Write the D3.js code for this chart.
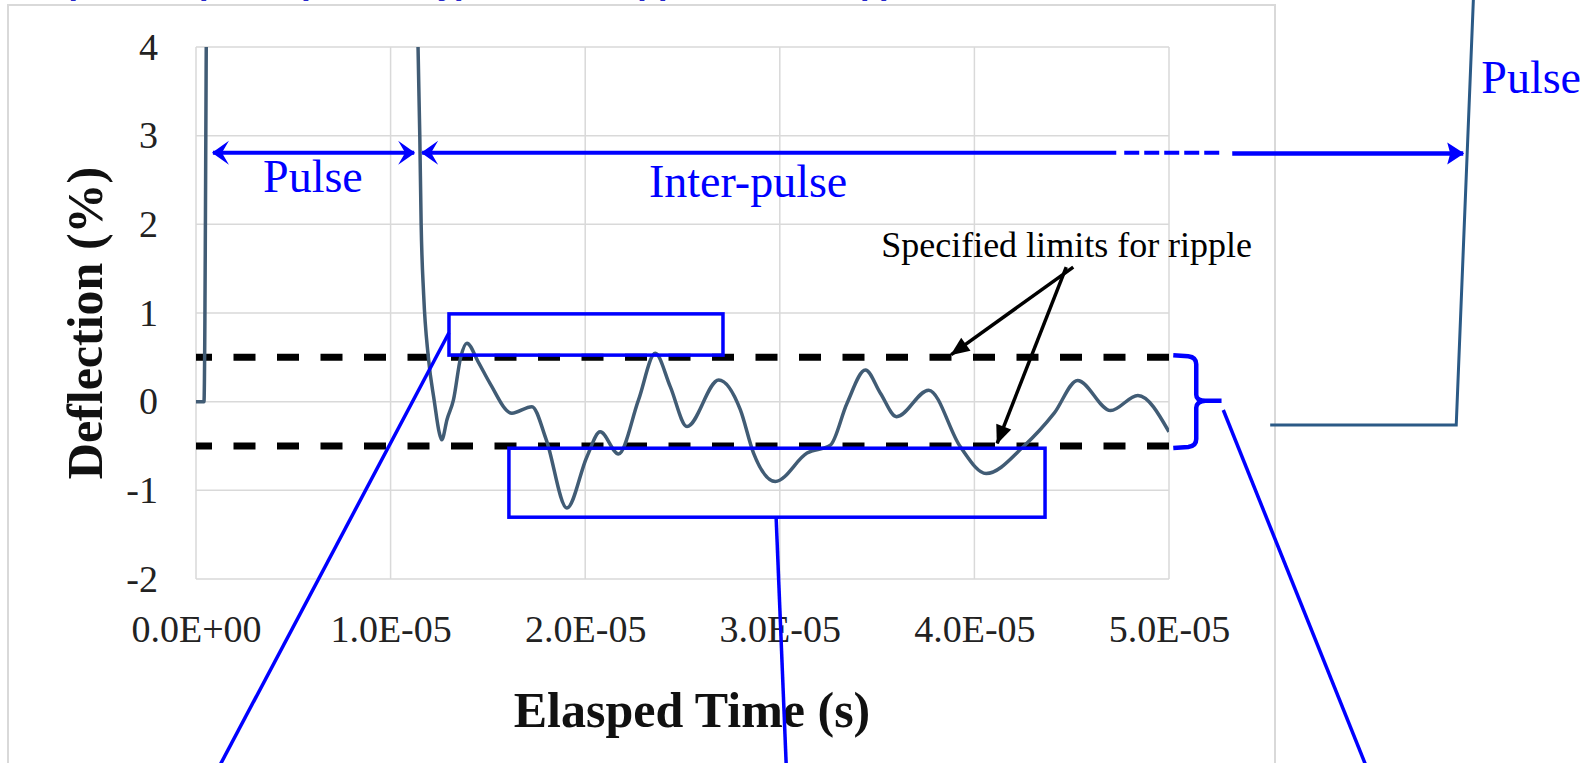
<!DOCTYPE html>
<html>
<head>
<meta charset="utf-8">
<script src="https://cdn.jsdelivr.net/npm/d3@7"></script>
<style>
  body { margin: 0; background: #fff; }
  svg { display: block; }
</style>
</head>
<body>
<script>
// trace: elapsed time (s) and deflection (%)
var timeSec = [0, 0.041e-5, 0.06e-5, 1.13e-5, 1.141e-5, 1.150e-5, 1.157e-5, 1.17e-5,
  1.194e-5, 1.225e-5, 1.25e-5, 1.263e-5, 1.29e-5, 1.323e-5, 1.36e-5, 1.392e-5, 1.45e-5,
  1.51e-5, 1.623e-5, 1.726e-5, 1.80e-5, 1.906e-5, 2.009e-5, 2.077e-5, 2.171e-5,
  2.274e-5, 2.36e-5, 2.437e-5, 2.523e-5, 2.686e-5, 2.797e-5, 2.865e-5, 2.977e-5,
  3.14e-5, 3.26e-5, 3.345e-5, 3.44e-5, 3.517e-5, 3.60e-5, 3.765e-5, 3.928e-5,
  4.06e-5, 4.255e-5, 4.41e-5, 4.53e-5, 4.70e-5, 4.84e-5, 5.0e-5];
var deflection = [0, 0, 6, 6, 4, 3, 2, 1.2,
  0.5, 0.0, -0.35, -0.43, -0.2, 0.02, 0.5, 0.66, 0.45,
  0.21, -0.13, -0.056, -0.43, -1.2, -0.62, -0.34, -0.59,
  0.02, 0.545, 0.17, -0.28, 0.245, -0.09, -0.58, -0.9,
  -0.58, -0.49, -0.02, 0.357, 0.095, -0.17, 0.13, -0.51,
  -0.81, -0.5, -0.13, 0.24, -0.1, 0.07, -0.34];

var rippleLimits = [0.5, -0.5];
var xTicks = [0, 1e-5, 2e-5, 3e-5, 4e-5, 5e-5];
var yTicks = [-2, -1, 0, 1, 2, 3, 4];

var W = 1593, H = 763;
var serif = '"Liberation Serif", "Times New Roman", serif';
var blue = '#0000ff';

var svg = d3.select('body').append('svg')
  .attr('width', W)
  .attr('height', H);

var x = d3.scaleLinear().domain([0, 5e-5]).range([196, 1169]);
var y = d3.scaleLinear().domain([-2, 4]).range([579, 47]);

//scientific labels like the spreadsheet: 1.0E-05
function sci(d) {
  if (d === 0) return '0.0E+00';
  var e = Math.floor(Math.log10(d) + 1e-9);
  var m = d / Math.pow(10, e);
  return m.toFixed(1) + 'E' + (e < 0 ? '-' : '+') + String(Math.abs(e)).padStart(2, '0');
}

var defs = svg.append('defs');
defs.append('clipPath').attr('id', 'plotClip')
  .append('rect')
  .attr('x', x(0)).attr('y', y(4))
  .attr('width', x(5e-5) - x(0)).attr('height', y(-2) - y(4));

function marker(id, color, d, w, h) {
  defs.append('marker')
    .attr('id', id)
    .attr('markerUnits', 'userSpaceOnUse')
    .attr('viewBox', (-w) + ' ' + (-h / 2) + ' ' + (w + 1) + ' ' + h)
    .attr('markerWidth', w + 1)
    .attr('markerHeight', h)
    .attr('refX', 0).attr('refY', 0)
    .attr('orient', 'auto-start-reverse')
    .append('path')
    .attr('d', d)
    .attr('fill', color);
}
marker('stealth', blue, 'M1,0 L-16,-12 L-9,0 L-16,12 Z', 17, 26);
marker('solidBlue', blue, 'M1,0 L-16,-11 L-13,0 L-16,11 Z', 17, 24);
marker('blackHead', '#000', 'M1,0 L-18,-8 L-18,8 Z', 19, 18);

// title line above, cut by the page edge
svg.append('text')
  .attr('x', 27).attr('y', -6)
  .attr('font-family', '"Liberation Sans", Arial, sans-serif')
  .attr('font-weight', 'bold')
  .attr('font-size', 34)
  .attr('fill', '#2626c9')
  .text('Expanded pulse (vertically) to show ripple on flat top)');

//chart area border
svg.append('rect')
  .attr('x', 8).attr('y', 5)
  .attr('width', 1267).attr('height', 800)
  .attr('fill', 'none')
  .attr('stroke', '#d9d9d9')
  .attr('stroke-width', 2);

var grid = svg.append('g').attr('stroke', '#d9d9d9').attr('stroke-width', 1.5);
grid.selectAll('.vg')
  .data(xTicks)
  .enter()
  .append('line')
  .attr('x1', function(d) { return x(d); })
  .attr('x2', function(d) { return x(d); })
  .attr('y1', y(4)).attr('y2', y(-2));
grid.selectAll('.hg')
  .data(yTicks)
  .enter()
  .append('line')
  .attr('x1', x(0)).attr('x2', x(5e-5))
  .attr('y1', function(d) { return y(d); })
  .attr('y2', function(d) { return y(d); });

var xAxis = svg.append('g')
  .attr('transform', 'translate(0,' + y(-2) + ')')
  .call(d3.axisBottom(x).tickValues(xTicks).tickFormat(sci).tickSize(0));
xAxis.select('.domain').remove();
xAxis.selectAll('text')
  .attr('y', 63).attr('dy', 0)
  .attr('font-family', serif).attr('font-size', 38).attr('fill', '#222');

var yAxis = svg.append('g')
  .attr('transform', 'translate(' + x(0) + ',0)')
  .call(d3.axisLeft(y).tickValues(yTicks).tickFormat(function(d) { return String(d); }).tickSize(0));
yAxis.select('.domain').remove();
yAxis.selectAll('text')
  .attr('x', -38)
  .attr('font-family', serif).attr('font-size', 38).attr('fill', '#222');

svg.append('text')
  .attr('transform', 'translate(102,323) rotate(-90)')
  .attr('text-anchor', 'middle')
  .attr('font-family', serif).attr('font-weight', 'bold').attr('font-size', 50)
  .attr('fill', '#111')
  .text('Deflection (%)');

svg.append('text')
  .attr('x', 692).attr('y', 727)
  .attr('text-anchor', 'middle')
  .attr('font-family', serif).attr('font-weight', 'bold').attr('font-size', 50)
  .attr('fill', '#111')
  .text('Elasped Time (s)');

//ripple limits
svg.selectAll('.limit')
  .data(rippleLimits)
  .enter()
  .append('line')
  .attr('x1', x(0)).attr('x2', x(5e-5))
  .attr('y1', function(d) { return y(d); })
  .attr('y2', function(d) { return y(d); })
  .attr('stroke', '#000')
  .attr('stroke-width', 7)
  .attr('stroke-dasharray', '22,21.5')
  .attr('stroke-dashoffset', 6);

var line = d3.line()
  .x(function(d, i) { return x(timeSec[i]); })
  .y(function(d) { return y(d); })
  .curve(d3.curveMonotoneX);

svg.append('path')
  .attr('clip-path', 'url(#plotClip)')
  .attr('d', line(deflection))
  .attr('fill', 'none')
  .attr('stroke', '#415c75')
  .attr('stroke-width', 3.5);

// blue annotations, placed in data units
var ann = svg.append('g').attr('stroke', blue).attr('fill', 'none');

ann.append('line')
  .attr('x1', x(0.087e-5)).attr('x2', x(1.121e-5))
  .attr('y1', y(2.807)).attr('y2', y(2.807))
  .attr('stroke-width', 4)
  .attr('marker-start', 'url(#stealth)')
  .attr('marker-end', 'url(#stealth)');

ann.append('line')
  .attr('x1', x(1.162e-5)).attr('x2', x(4.729e-5))
  .attr('y1', y(2.807)).attr('y2', y(2.807))
  .attr('stroke-width', 4)
  .attr('marker-start', 'url(#stealth)');
ann.append('line')
  .attr('x1', x(4.770e-5)).attr('x2', x(5.263e-5))
  .attr('y1', y(2.807)).attr('y2', y(2.807))
  .attr('stroke-width', 4)
  .attr('stroke-dasharray', '15,5');
ann.append('line')
  .attr('x1', x(5.325e-5)).attr('x2', x(6.512e-5))
  .attr('y1', y(2.80)).attr('y2', y(2.80))
  .attr('stroke-width', 4.5)
  .attr('marker-end', 'url(#solidBlue)');

ann.append('rect')
  .attr('x', x(1.30e-5)).attr('y', y(0.99))
  .attr('width', x(2.708e-5) - x(1.30e-5)).attr('height', y(0.525) - y(0.99))
  .attr('stroke-width', 3.5);
ann.append('rect')
  .attr('x', x(1.608e-5)).attr('y', y(-0.525))
  .attr('width', x(4.363e-5) - x(1.608e-5)).attr('height', y(-1.303) - y(-0.525))
  .attr('stroke-width', 3.5);

var callouts = [
  [[1.30e-5, 0.777], [0.123e-5, -4.1]],
  [[2.981e-5, -1.30], [3.033e-5, -4.1]],
  [[5.279e-5, -0.094], [6.011e-5, -4.1]]
];
callouts.forEach(function(c) {
  ann.append('line')
    .attr('x1', x(c[0][0])).attr('y1', y(c[0][1]))
    .attr('x2', x(c[1][0])).attr('y2', y(c[1][1]))
    .attr('stroke-width', 3.5);
});

//brace round the ripple band
var bx0 = x(5.022e-5), bx1 = x(5.14e-5), bt = x(5.27e-5);
var yTop = y(rippleLimits[0]) - 2, yBot = y(rippleLimits[1]) + 2, yMid = y(0);
ann.append('path')
  .attr('d', 'M' + bx0 + ',' + yTop +
    ' L' + (bx1 - 8) + ',' + (yTop + 1) +
    ' Q' + bx1 + ',' + (yTop + 2) + ' ' + bx1 + ',' + (yTop + 9) +
    ' L' + bx1 + ',' + (yMid - 7) +
    ' Q' + bx1 + ',' + (yMid - 1) + ' ' + (bx1 + 9) + ',' + (yMid - 1) +
    ' L' + bt + ',' + (yMid - 1) +
    ' M' + (bx1 + 9) + ',' + (yMid - 1) +
    ' Q' + bx1 + ',' + (yMid) + ' ' + bx1 + ',' + (yMid + 6) +
    ' L' + bx1 + ',' + (yBot - 9) +
    ' Q' + bx1 + ',' + (yBot - 2) + ' ' + (bx1 - 8) + ',' + (yBot - 1) +
    ' L' + bx0 + ',' + yBot)
  .attr('stroke-width', 4.5);

// next pulse sketch at the right
svg.append('polyline')
  .attr('points', [[x(5.52e-5), y(-0.263)], [x(6.476e-5), y(-0.263)], [x(6.564e-5), y(4.53)]]
    .map(function(p) { return p.join(','); }).join(' '))
  .attr('fill', 'none')
  .attr('stroke', '#2b5a86')
  .attr('stroke-width', 3);

var labels = svg.append('g')
  .attr('font-family', serif).attr('font-size', 46).attr('fill', blue);
labels.append('text')
  .attr('x', x(0.601e-5)).attr('y', y(2.364))
  .attr('text-anchor', 'middle')
  .text('Pulse');
labels.append('text')
  .attr('x', x(2.837e-5)).attr('y', y(2.311))
  .attr('text-anchor', 'middle')
  .text('Inter-pulse');
labels.append('text')
  .attr('x', x(6.605e-5)).attr('y', y(3.479))
  .text('Pulse');

svg.append('text')
  .attr('x', x(3.521e-5)).attr('y', y(1.631))
  .attr('font-family', serif).attr('font-size', 36).attr('fill', '#000')
  .text('Specified limits for ripple');

var pointers = [
  [[4.508e-5, 1.518], [3.881e-5, 0.53]],
  [[4.472e-5, 1.518], [4.117e-5, -0.47]]
];
pointers.forEach(function(p) {
  svg.append('line')
    .attr('x1', x(p[0][0])).attr('y1', y(p[0][1]))
    .attr('x2', x(p[1][0])).attr('y2', y(p[1][1]))
    .attr('stroke', '#000')
    .attr('stroke-width', 3.5)
    .attr('marker-end', 'url(#blackHead)');
});
</script>
</body>
</html>
